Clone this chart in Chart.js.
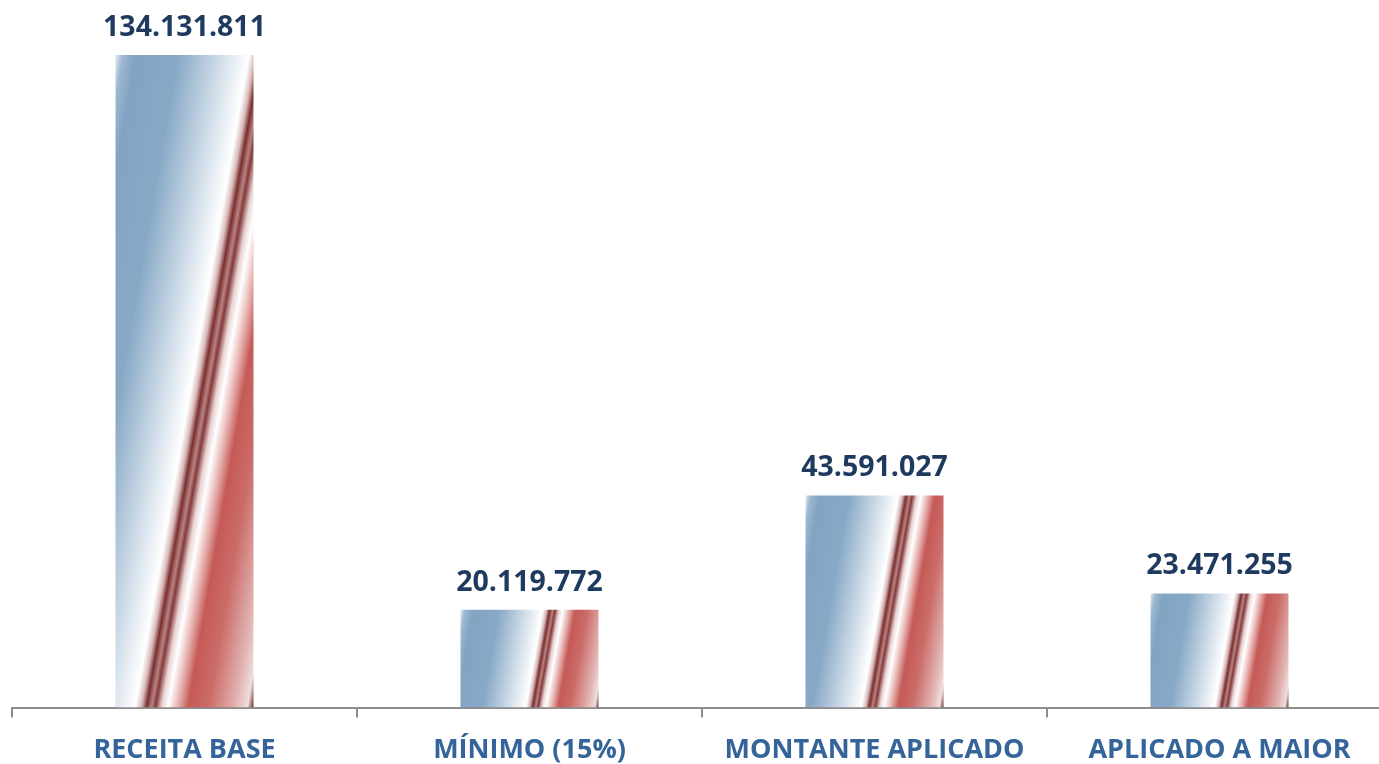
<!DOCTYPE html>
<html>
<head>
<meta charset="utf-8">
<script src="https://cdn.jsdelivr.net/npm/chart.js@4/dist/chart.umd.min.js"></script>
<style>
  html, body { margin: 0; padding: 0; background: #fff; overflow: hidden; }
  #wrap { width: 1395px; height: 784px; position: relative; }
</style>
</head>
<body>
<div id="wrap"><canvas id="chart"></canvas></div>
<script>
// ----------------- DATA -----------------
const categories = ["RECEITA BASE", "MÍNIMO (15%)", "MONTANTE APLICADO", "APLICADO A MAIOR"];
const values = [134131811, 20119772, 43591027, 23471255];

// ----------------- HELPERS -----------------
function fmt(n) {
  return String(n).replace(/\B(?=(\d{3})+(?!\d))/g, ".");
}

// slanted blue / red stripe fill, one gradient per bar box
const ANGLE = 9.9 * Math.PI / 180;
const stops = [
  [0.00, "#e2eaf2"], [0.03, "#9db8d0"], [0.08, "#82a4c3"], [0.25, "#88a9c6"],
  [0.53, "#ffffff"], [0.555, "#d8b8b8"], [0.575, "#7a2e2e"], [0.595, "#b98282"],
  [0.61, "#83393a"], [0.635, "#ead3d3"], [0.66, "#ffffff"], [0.70, "#e6b0ae"],
  [0.74, "#c55a57"], [0.82, "#cb6c69"], [0.93, "#e2b5b3"], [0.975, "#f0dede"],
  [1.00, "#6b2b2b"]
];

function barFill(ctx) {
  const chart = ctx.chart;
  if (!chart.chartArea || ctx.dataIndex === undefined) return "#88a9c6";
  const xs = chart.scales.x, ys = chart.scales.y;
  const cw = xs.width / categories.length;
  const w = cw * 0.4;
  const x0 = xs.getPixelForValue(ctx.dataIndex) - w / 2;
  const y0 = ys.getPixelForValue(values[ctx.dataIndex]);
  const h = ys.getPixelForValue(0) - y0;
  const c = Math.cos(ANGLE), s = Math.sin(ANGLE);
  const L = w * c + h * s;
  const g = chart.ctx.createLinearGradient(x0, y0, x0 + L * c, y0 + L * s);
  stops.forEach(([p, col]) => g.addColorStop(p, col));
  return g;
}

// value labels above bars
const valueLabels = {
  id: "valueLabels",
  afterDatasetsDraw(chart) {
    const ctx = chart.ctx;
    const meta = chart.getDatasetMeta(0);
    ctx.save();
    ctx.font = "bold 28.5px 'Open Sans'";
    ctx.fillStyle = "#1f3a5f";
    ctx.textAlign = "center";
    ctx.textBaseline = "bottom";
    meta.data.forEach((bar, i) => {
      ctx.fillText(fmt(values[i]), bar.x, bar.y - 13);
    });
    ctx.restore();
  }
};

// ----------------- CHART -----------------
new Chart(document.getElementById("chart"), {
  type: "bar",
  data: {
    labels: categories,
    datasets: [{
      data: values,
      backgroundColor: barFill,
      borderWidth: 0,
      categoryPercentage: 1,
      barPercentage: 0.4
    }]
  },
  options: {
    responsive: true,
    maintainAspectRatio: false,
    animation: false,
    layout: { padding: { left: 12, right: 3, top: 2, bottom: 0 } },
    plugins: { legend: { display: false }, tooltip: { enabled: false } },
    scales: {
      x: {
        grid: {
          display: true,
          offset: true,
          drawOnChartArea: false,
          drawTicks: true,
          tickLength: 10,
          color: "#8c8c8c",
          lineWidth: 2
        },
        border: { display: true, color: "#8c8c8c", width: 2 },
        ticks: {
          color: "#35649a",
          font: { family: "'Open Sans'", size: 27, weight: "bold" },
          padding: 17,
          maxRotation: 0,
          autoSkip: false
        }
      },
      y: {
        display: false,
        min: 0,
        max: 145000000
      }
    }
  },
  plugins: [valueLabels]
});
</script>
</body>
</html>
